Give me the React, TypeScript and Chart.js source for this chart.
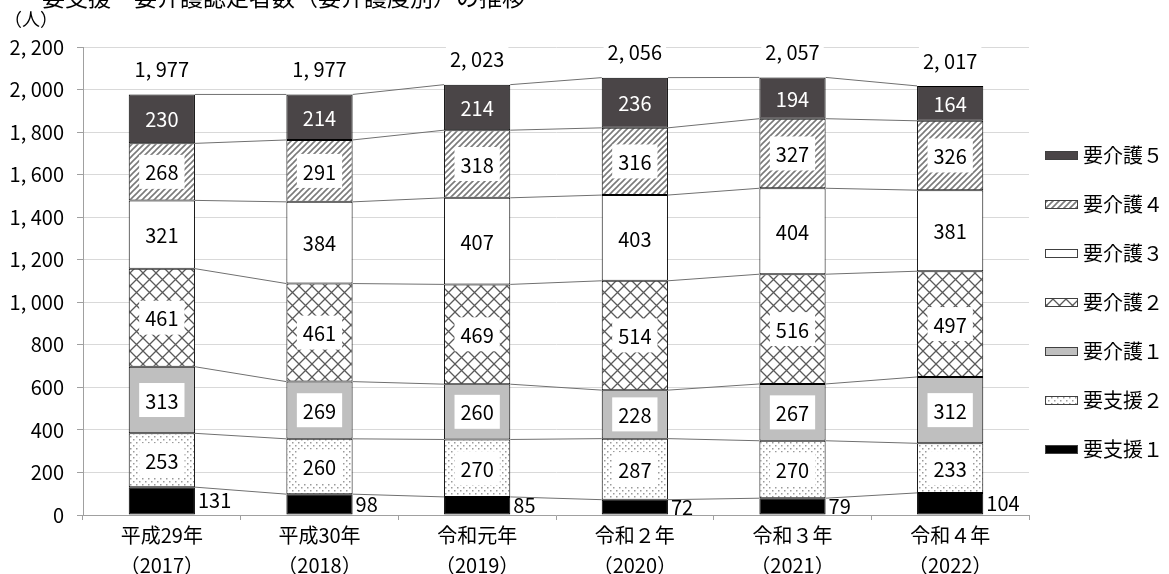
import React, { useEffect, useRef } from 'react';
import { Chart, registerables } from 'chart.js';

Chart.register(...registerables);

const categories: string[][] = [
  ['平成29年', '（2017）'],
  ['平成30年', '（2018）'],
  ['令和元年', '（2019）'],
  ['令和２年', '（2020）'],
  ['令和３年', '（2021）'],
  ['令和４年', '（2022）'],
];
const seriesNames = ['要支援１', '要支援２', '要介護１', '要介護２', '要介護３', '要介護４', '要介護５'];
const shien1 = [131, 98, 85, 72, 79, 104];
const shien2 = [253, 260, 270, 287, 270, 233];
const kaigo1 = [313, 269, 260, 228, 267, 312];
const kaigo2 = [461, 461, 469, 514, 516, 497];
const kaigo3 = [321, 384, 407, 403, 404, 381];
const kaigo4 = [268, 291, 318, 316, 327, 326];
const kaigo5 = [230, 214, 214, 236, 194, 164];
const seriesValues = [shien1, shien2, kaigo1, kaigo2, kaigo3, kaigo4, kaigo5];
const yMax = 2200;
const yStep = 200;
const titleText = '要支援・要介護認定者数（要介護度別）の推移';
const unitText = '（人）';

const FONT = '"Noto Sans CJK JP", "Noto Sans", sans-serif';

const fmt = (v: number) => v.toLocaleString('en-US').replace(',', ', ');

function makePattern(kind: string): CanvasPattern | string {
  const c = document.createElement('canvas');
  let s = 6;
  if (kind === 'hatch') s = 6;
  if (kind === 'lattice') s = 13;
  if (kind === 'dots') s = 6;
  c.width = s;
  c.height = s;
  const g = c.getContext('2d')!;
  g.fillStyle = '#ffffff';
  g.fillRect(0, 0, s, s);
  if (kind === 'hatch') {
    g.strokeStyle = '#7a7a7a';
    g.lineWidth = 1.6;
    g.beginPath();
    g.moveTo(-1, s + 1);
    g.lineTo(s + 1, -1);
    g.moveTo(-1, 1);
    g.lineTo(1, -1);
    g.moveTo(s - 1, s + 1);
    g.lineTo(s + 1, s - 1);
    g.stroke();
  } else if (kind === 'lattice') {
    g.strokeStyle = '#5a5a5a';
    g.lineWidth = 1.3;
    g.beginPath();
    g.moveTo(0, 0);
    g.lineTo(s, s);
    g.moveTo(0, s);
    g.lineTo(s, 0);
    g.stroke();
  } else if (kind === 'dots') {
    g.fillStyle = '#9a9a9a';
    g.fillRect(1, 1, 1.5, 1.5);
    g.fillRect(4, 4, 1.5, 1.5);
  }
  const p = g.createPattern(c, 'repeat');
  return p || '#ffffff';
}

export default function App() {
  const ref = useRef<HTMLCanvasElement | null>(null);

  useEffect(() => {
    if (!ref.current) return;
    const fills: (CanvasPattern | string)[] = [
      '#000000',
      makePattern('dots'),
      '#bfbfbf',
      makePattern('lattice'),
      '#ffffff',
      makePattern('hatch'),
      '#4a4547',
    ];

    const overlay = {
      id: 'overlay',
      afterDatasetsDraw(chart: any) {
        const ctx = chart.ctx as CanvasRenderingContext2D;
        const n = categories.length;
        const metas = seriesValues.map((_, i) => chart.getDatasetMeta(i));
        // connector lines
        ctx.save();
        ctx.strokeStyle = '#707070';
        ctx.lineWidth = 1;
        metas.forEach((meta: any) => {
          for (let j = 0; j < n - 1; j++) {
            const a = meta.data[j];
            const b = meta.data[j + 1];
            ctx.beginPath();
            ctx.moveTo(a.x + a.width / 2, a.y);
            ctx.lineTo(b.x - b.width / 2, b.y);
            ctx.stroke();
          }
        });
        ctx.restore();

        // value labels
        ctx.save();
        ctx.font = `20px ${FONT}`;
        ctx.textBaseline = 'middle';
        const last = metas.length - 1;
        metas.forEach((meta: any, i: number) => {
          for (let j = 0; j < n; j++) {
            const el = meta.data[j];
            const v = seriesValues[i][j];
            const cy = (el.y + el.base) / 2;
            const txt = String(v);
            if (i === 0) {
              ctx.textAlign = 'left';
              ctx.fillStyle = '#000';
              ctx.fillText(txt, el.x + el.width / 2 + 3, cy);
            } else if (i === last) {
              ctx.textAlign = 'center';
              ctx.fillStyle = '#ffffff';
              ctx.fillText(txt, el.x, cy + 1);
            } else {
              const tw = ctx.measureText(txt).width;
              const bw = tw + 12;
              const bh = 34;
              ctx.fillStyle = '#ffffff';
              ctx.fillRect(el.x - bw / 2, cy - bh / 2, bw, bh);
              ctx.textAlign = 'center';
              ctx.fillStyle = '#000';
              ctx.fillText(txt, el.x, cy + 1);
            }
          }
        });
        // totals
        const top = metas[last];
        for (let j = 0; j < n; j++) {
          const el = top.data[j];
          const total = seriesValues.reduce((s, arr) => s + arr[j], 0);
          const txt = fmt(total);
          const tw = ctx.measureText(txt).width;
          const cy = el.y - 25;
          ctx.fillStyle = '#ffffff';
          ctx.fillRect(el.x - tw / 2 - 4, cy - 14, tw + 8, 28);
          ctx.fillStyle = '#000';
          ctx.textAlign = 'center';
          ctx.fillText(txt, el.x, cy);
        }
        ctx.restore();
      },
      afterDraw(chart: any) {
        const ctx = chart.ctx as CanvasRenderingContext2D;
        ctx.save();
        // title (cut at top)
        ctx.font = `23px ${FONT}`;
        ctx.fillStyle = '#000';
        ctx.textAlign = 'left';
        ctx.textBaseline = 'alphabetic';
        ctx.fillText(titleText, 42, 6);
        // unit
        ctx.font = `18px ${FONT}`;
        ctx.textBaseline = 'middle';
        ctx.fillText(unitText, 4, 19);
        // legend
        ctx.font = `20px ${FONT}`;
        for (let k = 0; k < seriesNames.length; k++) {
          const i = seriesNames.length - 1 - k;
          const cy = 155 + k * 49;
          ctx.fillStyle = fills[i] as any;
          ctx.fillRect(1045, cy - 4, 33, 8);
          ctx.strokeStyle = '#404040';
          ctx.lineWidth = 1;
          ctx.strokeRect(1045.5, cy - 4 + 0.5, 32, 8);
          ctx.fillStyle = '#000';
          ctx.textAlign = 'left';
          ctx.textBaseline = 'middle';
          ctx.fillText(seriesNames[i], 1083, cy);
        }
        ctx.restore();
      },
    };

    const chart = new Chart(ref.current, {
      type: 'bar',
      data: {
        labels: categories,
        datasets: seriesValues.map((vals, i) => ({
          label: seriesNames[i],
          data: vals,
          backgroundColor: fills[i] as any,
          borderColor: '#000000',
          borderWidth: 1,
          borderSkipped: false,
          categoryPercentage: 1,
          barPercentage: 0.42,
        })),
      },
      options: {
        responsive: false,
        animation: false,
        devicePixelRatio: 1,
        layout: { padding: { top: 47, right: 140, left: 0, bottom: 0 } },
        plugins: {
          legend: { display: false },
          tooltip: { enabled: false },
          title: { display: false },
        },
        scales: {
          x: {
            stacked: true,
            grid: {
              display: true,
              drawOnChartArea: false,
              drawTicks: true,
              tickLength: 5,
              tickColor: '#a0a0a0',
              offset: true,
            },
            border: { display: true, color: '#a0a0a0', width: 1 },
            ticks: {
              color: '#000',
              padding: 0,
              maxRotation: 0,
              autoSkip: false,
              font: { family: FONT, size: 20, lineHeight: 1.5 },
            },
            afterFit(scale: any) {
              scale.height = 59;
            },
          },
          y: {
            stacked: true,
            min: 0,
            max: yMax,
            ticks: {
              stepSize: yStep,
              color: '#000',
              padding: 13,
              font: { family: FONT, size: 20 },
              callback: (v: any) => fmt(Number(v)),
            },
            grid: {
              color: '#d9d9d9',
              tickLength: 6,
              tickColor: '#a0a0a0',
            },
            border: { display: true, color: '#a0a0a0', width: 1 },
            afterFit(scale: any) {
              scale.width = 83;
            },
          },
        },
      },
      plugins: [overlay],
    });
    return () => chart.destroy();
  }, []);

  return (
    <div style={{ position: 'absolute', left: 0, top: 0, width: 1169, height: 574 }}>
      <canvas ref={ref} width={1169} height={574} />
    </div>
  );
}
